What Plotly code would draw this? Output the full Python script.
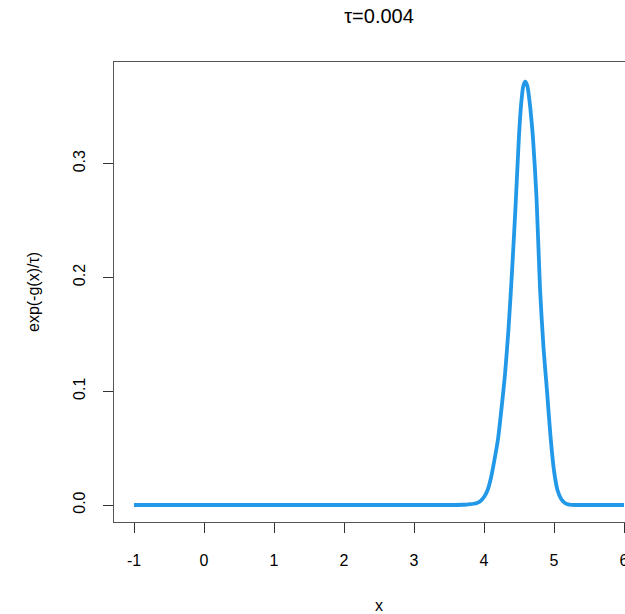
import plotly.graph_objects as go

# data
x_vals = [-1.0, 0.0, 1.0, 2.0, 3.0, 3.5, 3.7, 3.75, 3.8, 3.85, 3.9, 3.95, 4.0, 4.05, 4.1, 4.15,
          4.2, 4.25, 4.3, 4.35, 4.4, 4.45, 4.5, 4.53, 4.56, 4.59, 4.62, 4.65, 4.7, 4.75, 4.8, 4.85,
          4.9, 4.95, 5.0, 5.05, 5.1, 5.15, 5.2, 5.25, 5.3, 5.5, 6.0]
y_vals = [0.0, 0.0, 0.0, 0.0, 0.0, 0.0, 0.0002, 0.0004, 0.0007, 0.0011, 0.0018, 0.0035, 0.007, 0.013, 0.024, 0.040,
          0.058, 0.085, 0.115, 0.155, 0.205, 0.262, 0.325, 0.352, 0.368, 0.372, 0.368, 0.355, 0.322, 0.270, 0.190, 0.138,
          0.100, 0.060, 0.030, 0.013, 0.0055, 0.002, 0.0006, 0.0001, 0.0, 0.0, 0.0]
x_ticks = [-1, 0, 1, 2, 3, 4, 5, 6]
y_ticks = [0.0, 0.1, 0.2, 0.3]
y_tick_text = ["0.0", "0.1", "0.2", "0.3"]

FONT = "Liberation Sans, Arial, sans-serif"
W, H = 625, 614
L, R, T, B = 114, 0, 62, 92

fig = go.Figure()
fig.add_trace(go.Scatter(x=x_vals, y=y_vals, mode="lines",
                         line=dict(color="#2299E8", width=3.8, shape="spline", smoothing=0.6),
                         showlegend=False, hoverinfo="skip"))

fig.update_layout(
    width=W, height=H,
    margin=dict(l=L, r=R, t=T, b=B, pad=0),
    paper_bgcolor="white", plot_bgcolor="white",
    template="none",
    font=dict(family=FONT, size=16, color="#000"),
    title=dict(text="τ=0.004", x=379 / W, xref="container", xanchor="center",
               y=1 - 16 / H, yref="container", yanchor="middle",
               font=dict(family=FONT, size=20, color="#000")),
    xaxis=dict(range=[-1.286, 6.014], tickvals=x_ticks, ticktext=[str(v) for v in x_ticks],
               showgrid=False, zeroline=False, showline=True, mirror=True,
               linecolor="#555", linewidth=1.2, ticks="outside", ticklen=10,
               tickcolor="#333", tickwidth=1, ticklabelstandoff=14, automargin=False,
               ticklabeloverflow="allow",
               tickfont=dict(family=FONT, size=16, color="#000")),
    yaxis=dict(range=[-0.01494, 0.3893], tickvals=y_ticks, ticktext=y_tick_text,
               showgrid=False, zeroline=False, showline=True, mirror=False,
               linecolor="#555", linewidth=1.2, ticks="outside", ticklen=10,
               tickcolor="#333", tickwidth=1, tickangle=-90, ticklabelstandoff=12,
               automargin=False, tickfont=dict(family=FONT, size=16, color="#000")),
    annotations=[
        dict(text="x", xref="paper", yref="paper", x=(378.5 - L) / (W - L - R),
             y=-(605 - (H - B)) / (H - T - B), xanchor="center", yanchor="middle",
             showarrow=False, font=dict(family=FONT, size=16, color="#000")),
        dict(text="exp(-g(x)/τ)", xref="paper", yref="paper", x=-(L - 33) / (W - L - R),
             y=0.5, xanchor="center", yanchor="middle", textangle=-90,
             showarrow=False, font=dict(family=FONT, size=16, color="#000")),
    ],
)

fig.write_html("out.html")
